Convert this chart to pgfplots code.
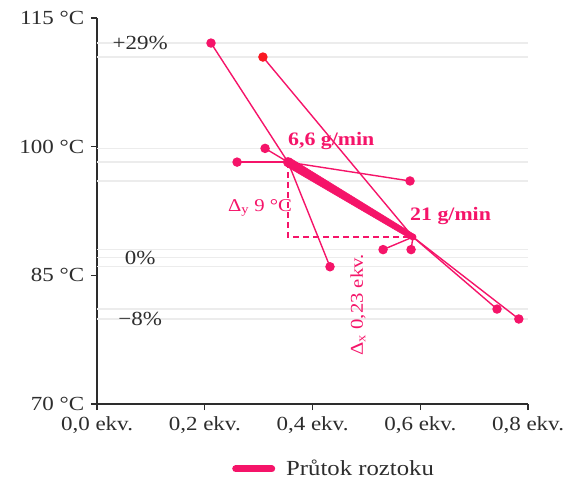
\documentclass[border=0pt]{standalone}
\usepackage{fontspec}
\setmainfont{Liberation Serif}[FakeStretch=1.15]
\usepackage{pgfplots}
\pgfplotsset{compat=1.18}
\definecolor{pk}{RGB}{245,20,105}
\definecolor{rd}{RGB}{250,25,35}
\definecolor{tx}{RGB}{45,45,45}
\definecolor{gl}{RGB}{236,236,236}
\begin{document}
\fontsize{20}{24}\selectfont
\begin{tikzpicture}
\path[use as bounding box] (-97pt,-79pt) rectangle (469pt,404pt);
\begin{axis}[
  at={(0pt,0pt)}, anchor=south west,
  scale only axis, width=431pt, height=386pt,
  xmin=0, xmax=0.8, ymin=70, ymax=115,
  axis lines*=left,
  axis line style={tx, line width=1.2pt, -},
  tick align=outside, major tick length=6pt,
  tick style={tx, line width=1.2pt},
  xtick={0,0.2,0.4,0.6,0.8},
  xticklabels={{0,0 ekv.},{0,2 ekv.},{0,4 ekv.},{0,6 ekv.},{0,8 ekv.}},
  ytick={70,85,100,115},
  yticklabels={{70 °C},{85 °C},{100 °C},{115 °C}},
  ticklabel style={font=\fontsize{20}{24}\selectfont, text=tx},
  minor ytick={112.08,87.05,79.91},
  minor tick length=6pt,
  minor tick style={xshift=6pt},
  extra y ticks={112.08,110.45,99.8,98.2,96.0,88.0,87.05,86.0,81.07,79.91},
  extra y tick labels={},
  extra y tick style={grid=major, major grid style={gl, line width=1.3pt}, major tick length=0pt},
  clip=false,
  legend style={at={(0.55,-0.168)}, anchor=center, draw=none, fill=none,
    font=\fontsize{21.5}{25}\selectfont, text=tx},
  legend image code/.code={\draw[pk, line width=7pt, line cap=round] (0pt,0pt) -- (36pt,0pt);},
  spoke/.style={pk, line width=1.4pt, mark=*, mark size=4pt, mark indices={2},
    mark options={solid, fill=pk, draw=pk}, forget plot},
]
% dashed guides
\addplot[pk, line width=1.8pt, dash pattern=on 6pt off 4pt, forget plot]
  coordinates {(0.3545,98.2) (0.3545,89.47) (0.5865,89.47)};
% spokes from 6,6 g/min point
\addplot[spoke] coordinates {(0.3545,98.2) (0.2116,112.08)};
\addplot[spoke] coordinates {(0.3545,98.2) (0.260,98.2)};
\addplot[spoke] coordinates {(0.3545,98.2) (0.312,99.8)};
\addplot[spoke] coordinates {(0.3545,98.2) (0.581,96.0)};
\addplot[spoke] coordinates {(0.3545,98.2) (0.4325,86.0)};
% spokes from 21 g/min point
\addplot[spoke, mark options={solid, fill=rd, draw=rd}] coordinates {(0.5865,89.47) (0.308,110.45)};
\addplot[spoke] coordinates {(0.5865,89.47) (0.531,88.0)};
\addplot[spoke] coordinates {(0.5865,89.47) (0.583,88.0)};
\addplot[spoke] coordinates {(0.5865,89.47) (0.7425,81.07)};
\addplot[spoke] coordinates {(0.5865,89.47) (0.783,79.91)};
% main flow line (tapered)
\addplot[fill=pk, draw=pk, line width=0.6pt]
  coordinates {(0.3502,97.762) (0.3588,98.662) (0.5892,89.748) (0.5839,89.189)} -- cycle;
\addlegendentry{\hspace{9pt}Průtok roztoku}
\addplot[only marks, mark=*, mark size=4.8pt, pk, mark options={fill=pk, draw=pk}, forget plot] coordinates {(0.3545,98.2)};
\addplot[only marks, mark=*, mark size=3.2pt, pk, mark options={fill=pk, draw=pk}, forget plot] coordinates {(0.5865,89.47)};
% labels
\node[anchor=base west, inner sep=0pt, text=pk, font=\fontsize{19}{22}\selectfont\bfseries] at (axis cs:0.3545,100.1) {6,6 g/min};
\node[anchor=base west, inner sep=0pt, text=pk, font=\fontsize{19}{22}\selectfont\bfseries] at (axis cs:0.581,91.45) {21 g/min};
\node[text=pk, font=\fontsize{18}{22}\selectfont] at (axis cs:0.3025,92.85) {Δ\textsubscript{y} 9 °C};
\node[text=pk, rotate=90, font=\fontsize{18}{22}\selectfont] at (axis cs:0.4845,81.54) {Δ\textsubscript{x} 0,23 ekv.};
\node[text=tx, font=\fontsize{20}{24}\selectfont] at (axis cs:0.08,112.08) {+29\%};
\node[text=tx, font=\fontsize{20}{24}\selectfont] at (axis cs:0.08,87.05) {0\%};
\node[text=tx, font=\fontsize{20}{24}\selectfont] at (axis cs:0.08,79.91) {−8\%};
\end{axis}
\end{tikzpicture}
\end{document}
